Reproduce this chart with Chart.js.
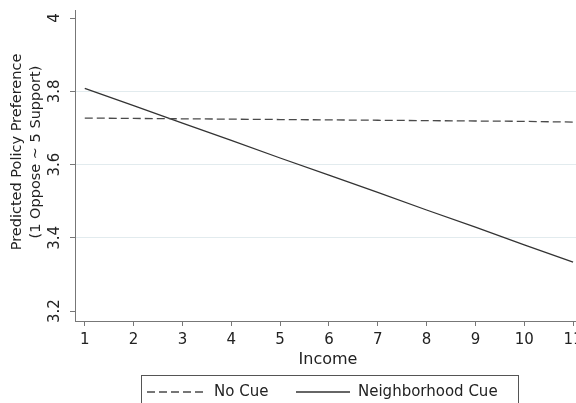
<!DOCTYPE html>
<html>
<head>
<meta charset="utf-8">
<script src="https://cdn.jsdelivr.net/npm/chart.js@4.4.0/dist/chart.umd.min.js"></script>
<style>
  html, body { margin: 0; padding: 0; background: #fff; }
  #wrap { width: 576px; height: 403px; }
</style>
</head>
<body>
<div id="wrap"><canvas id="myLineChart" width="576" height="403"></canvas></div>
<script>
// Data
var income = [1, 2, 3, 4, 5, 6, 7, 8, 9, 10, 11];
var noCue = [3.727, 3.726, 3.725, 3.724, 3.723, 3.722, 3.721, 3.720, 3.719, 3.718, 3.716];
var neighborhoodCue = [3.808, 3.761, 3.713, 3.666, 3.618, 3.571, 3.524, 3.476, 3.429, 3.381, 3.334];
var xTicks = [1, 2, 3, 4, 5, 6, 7, 8, 9, 10, 11];
var yTicks = [3.2, 3.4, 3.6, 3.8, 4];
var gridTicks = [3.4, 3.6, 3.8];

var FONT = '"DejaVu Sans", sans-serif';
var axisGray = '#777';

function toPoints(ys) {
  return income.map(function (x, i) { return { x: x, y: ys[i] }; });
}

// draws the rotated y labels, y title, x title and the boxed legend
var extras = {
  id: 'extras',
  afterDraw: function (chart) {
    var c = chart.ctx;
    var ys = chart.scales.y;
    c.save();
    c.fillStyle = '#222';
    c.textAlign = 'center';
    c.textBaseline = 'middle';

    // y tick labels, rotated
    c.font = '15px ' + FONT;
    yTicks.forEach(function (v) {
      c.save();
      c.translate(55, ys.getPixelForValue(v));
      c.rotate(-Math.PI / 2);
      c.fillText(String(v), 0, 0);
      c.restore();
    });

    // y title (two lines)
    c.font = '14.5px ' + FONT;
    c.save();
    c.translate(0, 152);
    c.rotate(-Math.PI / 2);
    c.fillText('Predicted Policy Preference', 0, 17.5);
    c.fillText('(1 Oppose ~ 5 Support)', 0, 36);
    c.restore();

    // x title
    c.font = '16px ' + FONT;
    c.fillText('Income', 328, 360);

    // legend
    c.strokeStyle = '#555';
    c.lineWidth = 1;
    c.strokeRect(141.5, 375.5, 377, 40);
    var ly = 392;
    var items = [
      { ds: chart.data.datasets[0], x0: 147, x1: 205, tx: 214 },
      { ds: chart.data.datasets[1], x0: 296, x1: 350, tx: 358 }
    ];
    c.font = '15px ' + FONT;
    c.textAlign = 'left';
    items.forEach(function (it) {
      c.save();
      c.strokeStyle = it.ds.borderColor;
      c.lineWidth = it.ds.borderWidth;
      c.setLineDash(it.ds.borderDash || []);
      c.beginPath();
      c.moveTo(it.x0, ly);
      c.lineTo(it.x1, ly);
      c.stroke();
      c.restore();
      c.fillText(it.ds.label, it.tx, ly);
    });
    c.restore();
  }
};

var ctx = document.getElementById('myLineChart').getContext('2d');

var myLineChart = new Chart(ctx, {
  type: 'line',
  data: {
    datasets: [{
      label: 'No Cue',
      data: toPoints(noCue),
      borderColor: '#4a4a4a',
      borderWidth: 1.3,
      borderDash: [8, 4],
      pointRadius: 0,
      tension: 0
    }, {
      label: 'Neighborhood Cue',
      data: toPoints(neighborhoodCue),
      borderColor: '#333',
      borderWidth: 1.3,
      pointRadius: 0,
      tension: 0
    }]
  },
  options: {
    responsive: false,
    animation: false,
    layout: { padding: { top: 10, right: 0, bottom: 0, left: 0 } },
    plugins: {
      legend: { display: false },
      tooltip: { enabled: false }
    },
    scales: {
      x: {
        type: 'linear',
        min: 0.8,
        max: 11.06,
        afterBuildTicks: function (scale) {
          scale.ticks = xTicks.map(function (v) { return { value: v }; });
        },
        afterFit: function (scale) {
          scale.height = 82;
          scale.paddingLeft = 0;
          scale.paddingRight = 0;
        },
        border: { color: axisGray, width: 1 },
        grid: { drawOnChartArea: false, tickLength: 5, tickColor: axisGray },
        ticks: {
          color: '#222',
          font: { family: FONT, size: 15 },
          padding: 5,
          maxRotation: 0,
          autoSkip: false
        }
      },
      y: {
        min: 3.173,
        max: 4.022,
        afterBuildTicks: function (scale) {
          scale.ticks = yTicks.map(function (v) { return { value: v }; });
        },
        afterFit: function (scale) {
          scale.width = 75;
          scale.paddingTop = 0;
          scale.paddingBottom = 0;
        },
        border: { color: axisGray, width: 1 },
        grid: {
          tickLength: 5,
          tickColor: axisGray,
          color: function (c) {
            return c.tick && gridTicks.indexOf(c.tick.value) >= 0 ? '#e2ebee' : 'rgba(0,0,0,0)';
          }
        },
        ticks: { display: false }
      }
    }
  },
  plugins: [extras]
});
</script>
</body>
</html>
